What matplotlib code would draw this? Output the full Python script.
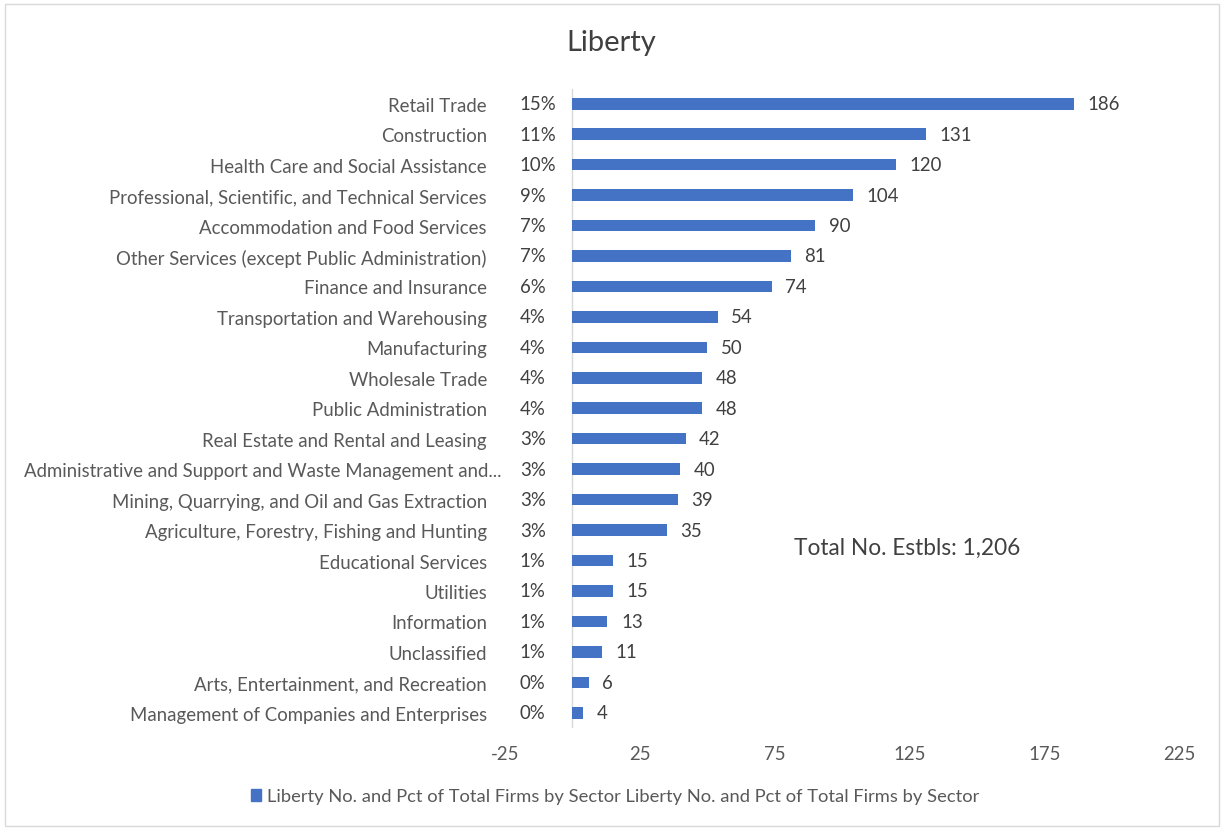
import matplotlib.pyplot as plt
from matplotlib.patches import Rectangle
from matplotlib.transforms import ScaledTranslation

# Sector data, top to bottom as in the chart
sectors = [
    "Retail Trade",
    "Construction",
    "Health Care and Social Assistance",
    "Professional, Scientific, and Technical Services",
    "Accommodation and Food Services",
    "Other Services (except Public Administration)",
    "Finance and Insurance",
    "Transportation and Warehousing",
    "Manufacturing",
    "Wholesale Trade",
    "Public Administration",
    "Real Estate and Rental and Leasing",
    "Administrative and Support and Waste Management and...",
    "Mining, Quarrying, and Oil and Gas Extraction",
    "Agriculture, Forestry, Fishing and Hunting",
    "Educational Services",
    "Utilities",
    "Information",
    "Unclassified",
    "Arts, Entertainment, and Recreation",
    "Management of Companies and Enterprises",
]
counts = [186, 131, 120, 104, 90, 81, 74, 54, 50, 48, 48, 42, 40, 39, 35, 15, 15, 13, 11, 6, 4]
pcts = ["15%", "11%", "10%", "9%", "7%", "7%", "6%", "4%", "4%", "4%", "4%",
        "3%", "3%", "3%", "3%", "1%", "1%", "1%", "1%", "0%", "0%"]
x_ticks = [-25, 25, 75, 125, 175, 225]

series_name = "Liberty No. and Pct of Total Firms by Sector Liberty No. and Pct of Total Firms by Sector"
bar_color = "#4472C4"
text_color = "#595959"

plt.rcParams['font.family'] = ['Lato', 'DejaVu Sans']
plt.rcParams['axes.unicode_minus'] = False

fig = plt.figure(figsize=(12.25, 8.29), dpi=100)
ax = fig.add_axes([505 / 1225, 1 - 729 / 829, 674 / 1225, (729 - 89.5) / 829])

ypos = list(range(len(sectors)))
ax.barh(ypos, counts, height=0.38, color=bar_color, zorder=3)
ax.set_ylim(len(sectors) - 0.5, -0.5)
ax.set_xlim(-25, 225)
ax.set_xticks(x_ticks)
ax.set_yticks(ypos)
ax.set_yticklabels(sectors)
ax.tick_params(axis='y', length=0, pad=13, labelsize=13.4, labelcolor=text_color)
ax.tick_params(axis='x', length=0, pad=12.5, labelsize=13.4, labelcolor=text_color)
for s in ax.spines.values():
    s.set_visible(False)
ax.axvline(0, color="#D9D9D9", lw=1, zorder=2)

# the truncated label sticks out a bit further right, as Excel draws it
long_lbl = ax.get_yticklabels()[12]
long_lbl.set_transform(long_lbl.get_transform() + ScaledTranslation(0.15, 0, fig.dpi_scale_trans))

# value labels and percentage sub-labels
for y, v, p in zip(ypos, counts, pcts):
    ax.text(v + 5, y, str(v), va='center', ha='left', fontsize=13.4, color='#404040')
    ax.text(-19.5, y, p, va='center', ha='left', fontsize=13.4, color='#404040')

ax.text(0.429, 0.283, "Total No. Estbls: 1,206", transform=ax.transAxes,
        fontsize=16.3, color='#404040', va='center', ha='left')

fig.text(0.499, 0.948, "Liberty", ha='center', va='center', fontsize=21, color='#404040')

# legend
handle = Rectangle((0, 0), 1, 1, color=bar_color)
fig.legend([handle], [series_name], loc='center', bbox_to_anchor=(0.502, 0.038),
           frameon=False, fontsize=13.2, handlelength=0.55, handleheight=0.55,
           handletextpad=0.35, labelcolor=text_color)

# chart area border
fig.patches.append(Rectangle((5 / 1225, 2 / 829), 1214 / 1225, 822 / 829,
                             transform=fig.transFigure, fill=False,
                             edgecolor='#D9D9D9', lw=1))

fig.savefig("out.png", dpi=100)
